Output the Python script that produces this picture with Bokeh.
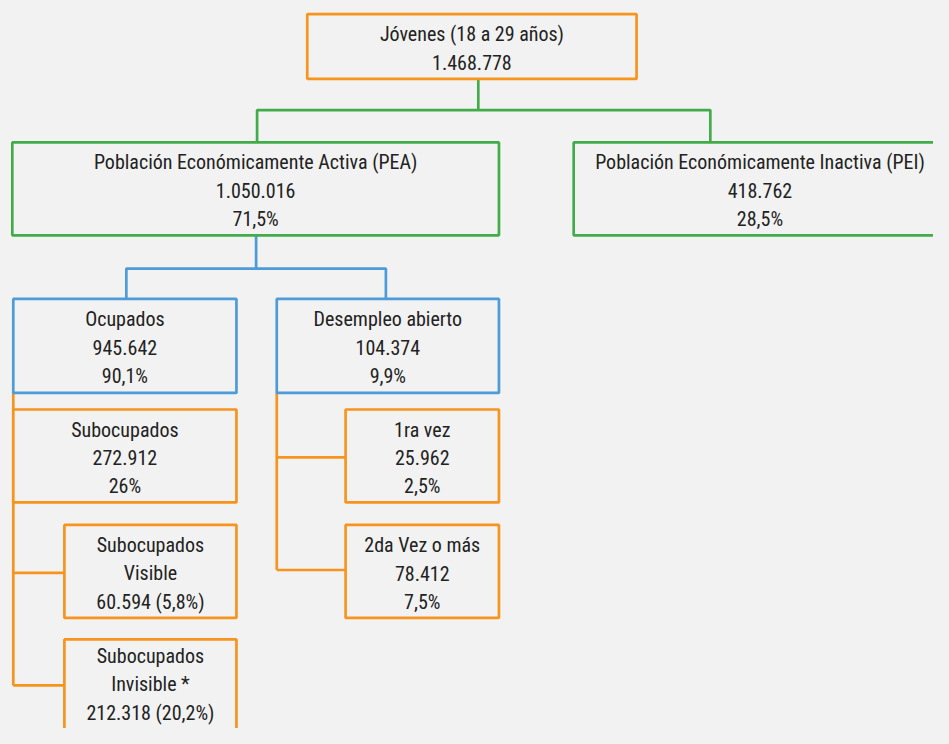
from bokeh.plotting import figure
from bokeh.models import Range1d
from bokeh.core.properties import value
from bokeh.embed import file_html
from bokeh.resources import INLINE

# ---- data ----
labels = ["Jóvenes (18 a 29 años)",
          "Población Económicamente Activa (PEA)",
          "Población Económicamente Inactiva (PEI)",
          "Ocupados",
          "Desempleo abierto",
          "Subocupados",
          "Subocupados Visible",
          "Subocupados Invisible *",
          "1ra vez",
          "2da Vez o más"]
values = [1468778, 1050016, 418762, 945642, 104374, 272912, 60594, 212318, 25962, 78412]
pcts = [None, 71.5, 28.5, 90.1, 9.9, 26, 5.8, 20.2, 2.5, 7.5]

# ---- layout (reference pixel coordinates) ----
boxes = [  # left, top, right, bottom, colour, style
    (312, 14, 647, 80, "orange", "plain"),
    (12, 145, 507, 240, "green", "plain"),
    (583, 145, 962, 240, "green", "plain"),
    (13, 305, 240, 401, "blue", "plain"),
    (281, 305, 507, 401, "blue", "plain"),
    (13, 418, 240, 513, "orange", "plain"),
    (65, 536, 240, 631, "orange", "split"),
    (65, 653, 240, 760, "orange", "split"),
    (351, 418, 507, 513, "orange", "plain"),
    (351, 536, 507, 631, "orange", "plain"),
]
text_centres = {7: 699}  # box whose lower part lies beyond the picture
colors = {"orange": "#F7941E", "green": "#43AC4A", "blue": "#4D9BD8"}
connectors = [  # (xs, ys, colour)
    ([486, 486], [80, 112], "green"),
    ([261, 261, 722, 722], [145, 112, 112, 145], "green"),
    ([260, 260], [240, 274], "blue"),
    ([128, 128, 392, 392], [305, 274, 274, 305], "blue"),
    ([13, 13], [401, 700], "orange"),
    ([13, 65], [585, 585], "orange"),
    ([13, 65], [700, 700], "orange"),
    ([281, 281], [401, 582], "orange"),
    ([281, 351], [467, 467], "orange"),
    ([281, 351], [582, 582], "orange"),
]
FONT = "Roboto Condensed, DejaVu Sans Condensed, Roboto"
LINE_H = 29
Y_SHIFT = 2
BG = "#F2F2F2"


def fmt_int(v):
    return f"{v:,}".replace(",", ".")


def fmt_pct(p):
    if float(p).is_integer():
        return f"{int(p)}%"
    return f"{p}".replace(".", ",") + "%"


p = figure(width=933, height=728, output_backend="svg", toolbar_location=None,
           x_range=Range1d(0, 949), y_range=Range1d(744, 0),
           x_axis_location=None, y_axis_location=None, min_border=0,
           background_fill_color=BG, border_fill_color=BG)
p.grid.visible = False
p.outline_line_color = None

# connectors
for xs, ys, c in connectors:
    p.line(xs, ys, line_color=colors[c], line_width=2.7)

# boxes
p.quad(left=[b[0] for b in boxes], right=[b[2] for b in boxes],
       top=[b[1] for b in boxes], bottom=[b[3] for b in boxes],
       fill_color=BG, line_color=[colors[b[4]] for b in boxes], line_width=2.7)

tx, ty, tt = [], [], []
for i, b in enumerate(boxes):
    if b[5] == "split":
        w = labels[i].split(" ", 1)
        lines = [w[0], w[1], f"{fmt_int(values[i])} ({fmt_pct(pcts[i])})"]
    else:
        lines = [labels[i], fmt_int(values[i])]
        if pcts[i] is not None:
            lines.append(fmt_pct(pcts[i]))
    cx = (b[0] + b[2]) / 2
    cy = text_centres.get(i, (b[1] + b[3]) / 2 + Y_SHIFT)
    n = len(lines)
    for k, s in enumerate(lines):
        tx.append(cx)
        ty.append(cy + (k - (n - 1) / 2) * LINE_H)
        tt.append(s)

p.text(x=tx, y=ty, text=tt, text_align="center", text_baseline="middle",
       text_font=value(FONT), text_font_size="20px", text_color="#222222")

html = file_html(p, INLINE)
html = html.replace("</head>", "<style>body{background:%s;}</style></head>" % BG, 1)
open("out.html", "w").write(html)
